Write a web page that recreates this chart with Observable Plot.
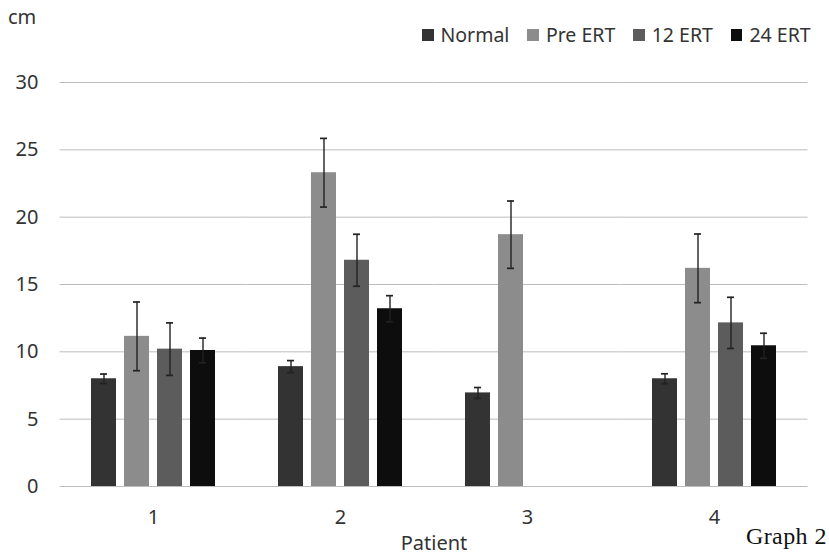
<!DOCTYPE html>
<html><head><meta charset="utf-8">
<script src="https://cdn.jsdelivr.net/npm/d3@7"></script>
<script src="https://cdn.jsdelivr.net/npm/@observablehq/plot@0.6"></script>
<style>
body{margin:0;background:#fff;}
#wrap{position:relative;width:829px;height:556px;font-family:"Noto Sans",sans-serif;color:#333;overflow:hidden;}
#wrap svg{position:absolute;left:0;top:0;}
.ov{position:absolute;white-space:nowrap;line-height:1;}
#legend{position:absolute;top:25px;left:422px;display:flex;align-items:center;font-size:19.5px;line-height:1;color:#333;}
#legend .item{display:flex;align-items:center;margin-right:18px;}
#legend .sw{width:11.5px;height:11.5px;margin-right:7px;box-sizing:border-box;}
</style></head><body><div id="wrap"></div>
<script>
const patients = ["1", "2", "3", "4"];
const series = ["Normal", "Pre ERT", "12 ERT", "24 ERT"];
const colors = ["#333333", "#8c8c8c", "#5c5c5c", "#0d0d0d"];
const normal   = [8.0, 8.9, 6.95, 8.0];
const normalErr = [0.35, 0.45, 0.4, 0.37];
const preERT   = [11.15, 23.3, 18.7, 16.2];
const preErr   = [2.55, 2.55, 2.5, 2.55];
const ert12    = [10.2, 16.8, null, 12.15];
const ert12Err = [1.95, 1.93, null, 1.9];
const ert24    = [10.1, 13.2, null, 10.45];
const ert24Err = [0.92, 0.97, null, 0.93];
const yTicks = [0, 5, 10, 15, 20, 25, 30];

const vals = [normal, preERT, ert12, ert24];
const errs = [normalErr, preErr, ert12Err, ert24Err];
const rows = [];
patients.forEach((p, i) => series.forEach((s, j) => {
  const v = vals[j][i];
  if (v == null) return;
  rows.push({patient: p, series: s, value: v, lo: v - errs[j][i], hi: v + errs[j][i]});
}));

const chart = Plot.plot({
  width: 829, height: 556,
  marginTop: 82, marginBottom: 70, marginLeft: 60, marginRight: 22,
  style: {fontFamily: "Noto Sans", fontSize: "20px", color: "#333", background: "transparent"},
  fx: {domain: patients, paddingInner: 0.3155, paddingOuter: 0.155, label: null},
  x: {domain: series, paddingInner: 0.23, paddingOuter: 0, axis: null},
  y: {domain: [0, 30], label: null},
  color: {domain: series, range: colors},
  marks: [
    Plot.ruleY(yTicks, {stroke: "#bdbdbd", strokeWidth: 1, insetLeft: -29.5, insetRight: -29.5}),
    Plot.axisY({ticks: yTicks, tickSize: 0, tickPadding: 51, label: null, fontSize: 20, fill: "#333"}),
    Plot.barY(rows, {fx: "patient", x: "series", y: "value", fill: "series"}),
    Plot.ruleX(rows, {fx: "patient", x: "series", y1: "lo", y2: "hi", stroke: "#222", strokeWidth: 1.4}),
    Plot.tickY(rows, {fx: "patient", x: "series", y: "hi", insetLeft: 9, insetRight: 9, stroke: "#222", strokeWidth: 1.7}),
    Plot.tickY(rows, {fx: "patient", x: "series", y: "lo", insetLeft: 9, insetRight: 9, stroke: "#222", strokeWidth: 1.7}),
    Plot.axisFx({anchor: "bottom", tickSize: 0, tickPadding: 23, label: null, fontSize: 20, fill: "#333"})
  ]
});

const wrap = document.getElementById("wrap");
wrap.appendChild(chart);

function addText(txt, css) {
  const d = document.createElement("div");
  d.className = "ov";
  d.textContent = txt;
  Object.assign(d.style, css);
  wrap.appendChild(d);
}
addText("cm", {left: "8px", top: "7px", fontSize: "20px"});
addText("Patient", {left: "434px", top: "533px", fontSize: "20px", transform: "translateX(-50%)"});
addText("Graph 2", {left: "746px", top: "524px", fontSize: "24px", letterSpacing: "0.4px", fontFamily: "'Liberation Serif', serif", color: "#111"});

const legend = document.createElement("div");
legend.id = "legend";
series.forEach((s, j) => {
  const it = document.createElement("div");
  it.className = "item";
  const sw = document.createElement("div");
  sw.className = "sw";
  sw.style.background = colors[j];
  const t = document.createElement("span");
  t.textContent = s;
  it.appendChild(sw); it.appendChild(t);
  legend.appendChild(it);
});
wrap.appendChild(legend);
</script></body></html>
